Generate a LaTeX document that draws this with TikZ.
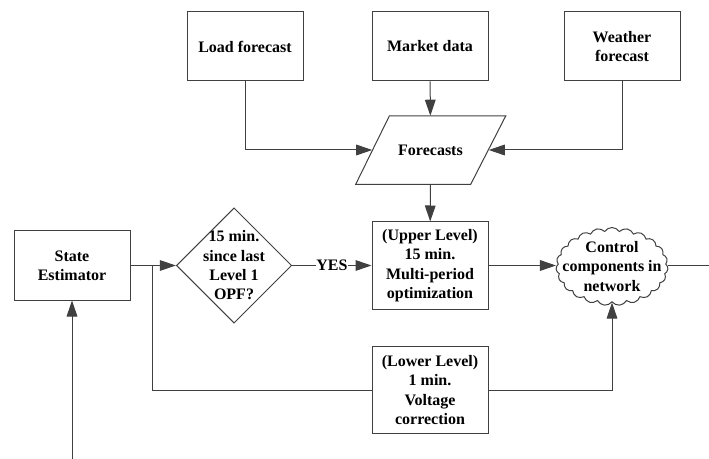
\documentclass[tikz,border=0pt]{standalone}
\usepackage{fontspec}
\setmainfont{Liberation Serif}
\usetikzlibrary{arrows.meta,shapes.geometric,shapes.symbols}
\definecolor{linegray}{RGB}{64,64,64}

\begin{document}
\begin{tikzpicture}[x=0.75pt, y=-0.75pt, >={Triangle[length=12pt,width=8pt]},
    every node/.style={font=\fontsize{12}{14.5}\selectfont\bfseries, align=center, inner sep=0pt},
    box/.style={draw=linegray, line width=0.75pt, minimum width=87pt, minimum height=51.75pt},
    tall/.style={box, minimum height=65.25pt},
    dec/.style={diamond, draw=linegray, line width=0.75pt, minimum width=86.5pt, minimum height=86.5pt, aspect=1},
    io/.style={minimum width=87pt, minimum height=51pt},
    cloudbox/.style={cloud, cloud puffs=23, cloud puff arc=115, cloud ignores aspect,
        draw=linegray, line width=0.75pt, minimum width=84pt, minimum height=58.5pt},
    conn/.style={draw=linegray, line width=0.75pt}]
    \useasboundingbox (0,0) rectangle (709,459);

    \node[box] (load) at (245,46.5) {Load forecast};
    \node[box] (market) at (430,46.5) {Market data};
    \node[box] (weather) at (622,46.5) {Weather\\forecast};
    \node[io] (fc) at (430.5,150) {Forecasts};
    \draw[conn] (fc.center) ++(-41.2,-34) -- ++(116.4,0) -- ++(-35,68.3) -- ++(-115,0) -- cycle;
    \node[box] (state) at (72,265.5) {State\\Estimator};
    \node[dec, label=center:{15 min.\\since last\\Level 1\\OPF?}] (check) at (234,265.5) {};
    \node[tall] (upper) at (430,265.5) {(Upper Level)\\15 min.\\Multi-period\\optimization};
    \node[tall] (lower) at (430,390) {(Lower Level)\\1 min.\\Voltage\\correction};
    \node[cloudbox, label=center:{Control\\components in\\network}] (ctrl) at (612,266.5) {};
    \coordinate (in) at (72,459);
    \coordinate (out) at (709,265.5);
    \coordinate (split) at (152,265.5);

    \draw[conn,->] (load) |- (fc);
    \draw[conn,->] (weather) |- (fc);
    \draw[conn,->] (market) -- (fc);
    \draw[conn,->] (fc) -- (upper);
    \draw[conn,->] (in) -- (state);
    \draw[conn,->] (state) -- (check);
    \draw[conn] (split) |- (lower);
    \draw[conn,->] (check) -- node[fill=white, inner xsep=0.5pt]{YES} (upper);
    \draw[conn,->] (upper.east) -- (upper.east -| ctrl.west);
    \draw[conn,->] (lower) -| (ctrl);
    \draw[conn] (ctrl.east |- out) -- (out);
\end{tikzpicture}
\end{document}
